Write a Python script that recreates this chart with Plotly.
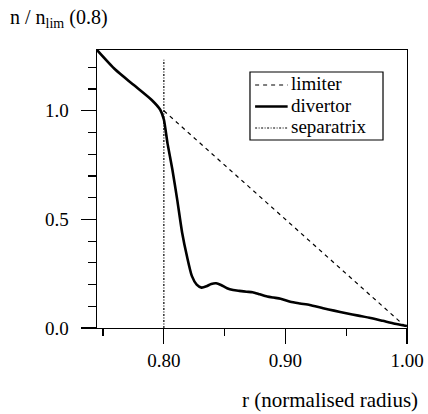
import plotly.graph_objects as go

# Divertor profile (normalised density vs normalised radius)
divertor_r = [0.745, 0.760, 0.775, 0.790, 0.797, 0.800, 0.803, 0.807, 0.811, 0.815,
              0.819, 0.823, 0.827, 0.831, 0.835, 0.839, 0.843, 0.847, 0.852, 0.857,
              0.862, 0.868, 0.873, 0.879, 0.885, 0.890, 0.896, 0.904, 0.912, 0.920,
              0.931, 0.940, 0.950, 0.960, 0.970, 0.980, 0.990, 1.000]
divertor_n = [1.28, 1.19, 1.12, 1.05, 1.005, 0.96, 0.85, 0.73, 0.59, 0.44,
              0.33, 0.24, 0.20, 0.186, 0.192, 0.203, 0.206, 0.198, 0.183, 0.175,
              0.171, 0.167, 0.165, 0.155, 0.145, 0.140, 0.135, 0.121, 0.113, 0.106,
              0.091, 0.080, 0.068, 0.057, 0.046, 0.033, 0.020, 0.009]

# Limiter profile (linear)
limiter_r = [0.80, 1.00]
limiter_n = [1.00, 0.00]

# Separatrix position
separatrix_r = [0.80, 0.80]
separatrix_n = [0.00, 1.235]

series_names = ["limiter", "divertor", "separatrix"]

x_ticks = [0.80, 0.90, 1.00]
x_ticklabels = ["0.80", "0.90", "1.00"]
x_minor = [0.75, 0.85, 0.95]
y_ticks = [0.0, 0.5, 1.0]
y_ticklabels = ["0.0", "0.5", "1.0"]

FONT = "'Liberation Serif', 'Times New Roman', serif"
styles = {
    "limiter": dict(color="black", width=1.2, dash="4px,4px"),
    "divertor": dict(color="black", width=2.6),
    "separatrix": dict(color="black", width=1.2, dash="2px,1.5px,1px,1.5px"),
}

fig = go.Figure()
fig.add_trace(go.Scatter(x=limiter_r, y=limiter_n, mode="lines", name=series_names[0],
                         line=styles["limiter"], showlegend=False))
fig.add_trace(go.Scatter(x=divertor_r, y=divertor_n, mode="lines", name=series_names[1],
                         line=dict(styles["divertor"], shape="spline", smoothing=0.6),
                         showlegend=False))
fig.add_trace(go.Scatter(x=separatrix_r, y=separatrix_n, mode="lines", name=series_names[2],
                         line=styles["separatrix"], showlegend=False))

# Legend drawn as a boxed key (paper coordinates)
shapes = [dict(type="rect", xref="paper", yref="paper", x0=0.4935, x1=0.9226,
               y0=0.6763, y1=0.9209, line=dict(color="black", width=1.2),
               fillcolor="white", layer="above")]
annotations = []
row_y = [0.8741, 0.7968, 0.7194]
for name, yy in zip(series_names, row_y):
    st = styles[name]
    shapes.append(dict(type="line", xref="paper", yref="paper", x0=0.510, x1=0.615,
                       y0=yy, y1=yy, layer="above",
                       line=dict(color="black", width=st["width"],
                                 dash=st.get("dash", "solid"))))
    annotations.append(dict(text=name, xref="paper", yref="paper", x=0.622, y=yy + 0.004,
                            xanchor="left", yanchor="middle", showarrow=False,
                            borderpad=0,
                            font=dict(family=FONT, size=19, color="black")))

annotations += [
    dict(text="r (normalised radius)", xref="paper", yref="paper",
         x=1.042, y=-0.259, xanchor="right", yanchor="middle", showarrow=False,
         font=dict(family=FONT, size=21, color="black")),
    dict(text="n / n<sub>lim</sub> (0.8)", xref="paper", yref="paper",
         x=-0.287, y=1.115, xanchor="left", yanchor="middle", showarrow=False,
         font=dict(family=FONT, size=20, color="black")),
]

fig.update_layout(
    width=428, height=414,
    margin=dict(l=97, r=21, t=50, b=86, autoexpand=False),
    paper_bgcolor="white", plot_bgcolor="white",
    font=dict(family=FONT, size=19, color="black"),
    showlegend=False,
    xaxis=dict(range=[0.745, 1.0], tickvals=x_ticks, ticktext=x_ticklabels,
               ticks="outside", ticklen=15, tickwidth=1.2, tickcolor="black",
               showline=True, linecolor="black", linewidth=1.4, mirror=True,
               showgrid=False, zeroline=False, automargin=False,
               minor=dict(tickvals=x_minor, ticks="outside", ticklen=7,
                          tickwidth=1.2, tickcolor="black", showgrid=False),
               tickfont=dict(family=FONT, size=19)),
    yaxis=dict(range=[0, 1.28], tickvals=y_ticks, ticktext=y_ticklabels,
               ticks="outside", ticklen=15, tickwidth=1.2, tickcolor="black",
               showline=True, linecolor="black", linewidth=1.4, mirror=True,
               showgrid=False, zeroline=False, automargin=False,
               ticklabelstandoff=8,
               minor=dict(dtick=0.1, tick0=0, ticks="outside", ticklen=8,
                          tickwidth=1.2, tickcolor="black", showgrid=False),
               tickfont=dict(family=FONT, size=19)),
    shapes=shapes,
    annotations=annotations,
)

fig.write_html("out.html", config={"displayModeBar": False, "staticPlot": True},
               post_script="document.body.style.margin='0';document.body.style.overflow='hidden';")
